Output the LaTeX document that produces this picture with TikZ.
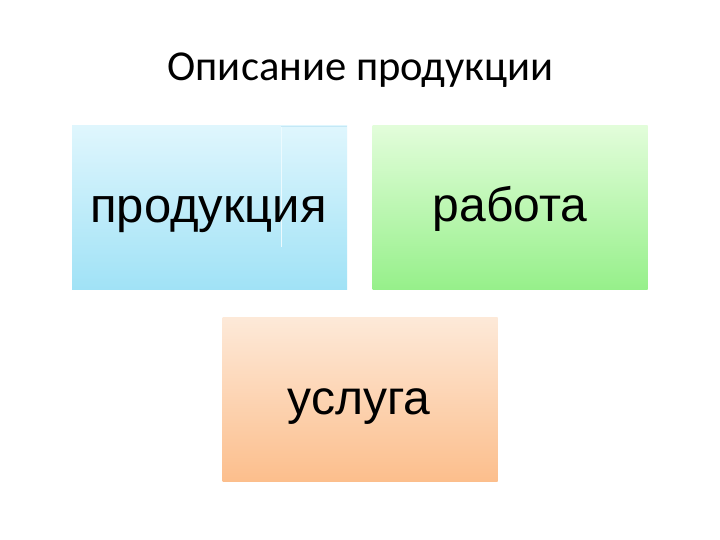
\documentclass[tikz,border=0pt]{standalone}
\usepackage{fontspec}
\newfontfamily\titlefont{Carlito}
\newfontfamily\boxfont{Liberation Sans}
\definecolor{bluetop}{RGB}{223,246,253}
\definecolor{bluebot}{RGB}{160,226,246}
\definecolor{greentop}{RGB}{226,253,218}
\definecolor{greenbot}{RGB}{150,240,138}
\definecolor{orangetop}{RGB}{253,233,216}
\definecolor{orangebot}{RGB}{252,190,140}
\definecolor{artline}{RGB}{236,250,254}
\definecolor{arttop}{RGB}{196,232,246}
\tikzset{
  panel/.style={rectangle, draw=none, minimum width=275pt, minimum height=164pt, inner sep=0pt},
  panellabel/.style={anchor=base, inner sep=0pt, font=\boxfont\fontsize{48}{56}\selectfont, text=black},
}
\begin{document}
\begin{tikzpicture}[x=1pt,y=1pt]
\useasboundingbox (0,0) rectangle (720,540);
\fill[white] (0,0) rectangle (720,540);
\node[anchor=base, inner sep=0pt, font=\titlefont\fontsize{42.6}{50}\selectfont] (title) at (360.5,459) {Описание продукции};
\node[panel, top color=bluetop, bottom color=bluebot] (b1) at (209.5,332) {};
\node[panel, top color=greentop, bottom color=greenbot] (b2) at (510,332) {};
\node[panel, top color=orangetop, bottom color=orangebot] (b3) at (360,140) {};
\draw[artline, line width=0.8pt] (281,414) -- (281,293);
\draw[arttop, line width=0.8pt] (281,414) -- (347,414);
\node[panellabel, font=\boxfont\fontsize{49}{56}\selectfont] (t1) at (208.5,317) {продукция};
\node[panellabel] (t2) at (510,318) {работа};
\node[panellabel] (t3) at (359,125) {услуга};
\end{tikzpicture}
\end{document}
